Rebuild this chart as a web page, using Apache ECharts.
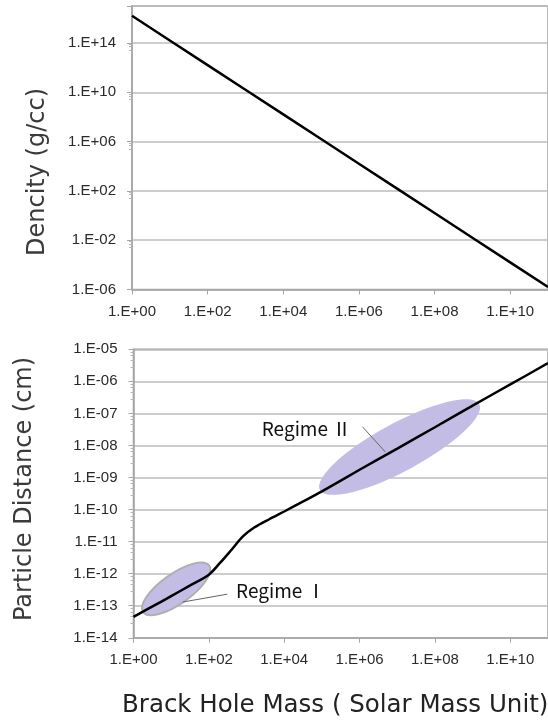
<!DOCTYPE html>
<html>
<head>
<meta charset="utf-8">
<script src="https://cdn.jsdelivr.net/npm/echarts@6/dist/echarts.min.js"></script>
<style>
  html, body { margin: 0; padding: 0; background: #fff; }
  #chart { width: 548px; height: 721px; }
</style>
</head>
<body>
<div id="chart"></div>
<script>
// top panel: density vs black hole mass
const massTop = [1, 1e1, 1e2, 1e3, 1e4, 1e5, 1e6, 1e7, 1e8, 1e9, 1e10, 1e11]
const densityTop = [1.6e16, 1.6e14, 1.6e12, 1.6e10, 1.6e8, 1.6e6, 1.6e4, 1.6e2, 1.6, 1.6e-2, 1.6e-4, 1.6e-6]

// bottom panel: particle distance vs black hole mass
const massBottom = [1, 3.2, 10, 32, 100, 200, 400, 800, 1600, 4000, 1e4, 3.2e4, 1e5, 1e6, 1e7, 1e8, 1e9, 1e10, 1e11]
const distanceBottom = [4.5e-14, 9.5e-14, 2.0e-13, 4.3e-13, 9.3e-13, 2.2e-12, 5.6e-12, 1.45e-11, 2.75e-11, 5.0e-11,
  8.7e-11, 1.8e-10, 3.7e-10, 1.75e-9, 8.0e-9, 3.7e-8, 1.75e-7, 8.0e-7, 3.7e-6]

// regime annotations (data units)
const regimeNames = ['Regime Ⅰ', 'Regime Ⅱ']
const regimeStart = [[1.8, 6.3e-14], [8.9e4, 4.1e-10]]
const regimeEnd = [[102, 1.8e-12], [1.5e9, 1.95e-7]]
const regimeLabelAt = [[8.1e3, 2.9e-13], [3.9e4, 3.2e-8]]
const leaderFrom = [[310, 2.3e-13], [1.2e6, 3.8e-8]]
const leaderTo = [[20, 1.3e-13], [4.8e6, 6.3e-9]]

const labelFont = 'Liberation Sans'
const titleFont = 'DejaVu Sans'

function sci(v) {
  const e = Math.round(Math.log10(v))
  return '1.E' + (e < 0 ? '-' : '+') + String(Math.abs(e)).padStart(2, '0')
}

function xAxisOf(gridIndex) {
  return {
    type: 'log',
    logBase: 10,
    gridIndex,
    min: 1,
    max: 1e11,
    interval: 2,
    axisLine: { lineStyle: { color: '#a6a6a6', width: 1.5 } },
    axisTick: { show: true, length: 5, lineStyle: { color: '#a6a6a6' } },
    axisLabel: {
      formatter: sci,
      color: '#2a2a2a',
      fontFamily: labelFont,
      fontSize: 15,
      margin: 15,
      showMaxLabel: false
    },
    splitLine: { show: false }
  }
}

const chart = echarts.init(document.getElementById('chart'))

const option = {
  animation: false,
  backgroundColor: '#fff',
  grid: [
    { left: 132, top: 6, width: 418, height: 283.5, show: true, borderColor: '#a0a0a0', borderWidth: 1.5 },
    { left: 133.5, top: 349.3, width: 418, height: 288.5, show: true, borderColor: '#a0a0a0', borderWidth: 1.5 }
  ],
  xAxis: [xAxisOf(0), xAxisOf(1)],
  yAxis: [
    {
      type: 'log',
      logBase: 10,
      gridIndex: 0,
      min: 1e-6,
      max: 1e17,
      interval: 4,
      axisLine: { show: true, lineStyle: { color: '#a6a6a6', width: 1.5 } },
      axisTick: { show: true, length: 5, lineStyle: { color: '#a6a6a6' } },
      minorTick: { show: true, splitNumber: 4, length: 3, lineStyle: { color: '#b8b8b8' } },
      axisLabel: {
        formatter: sci,
        color: '#2a2a2a',
        fontFamily: labelFont,
        fontSize: 15,
        margin: 16,
        showMaxLabel: false
      },
      splitLine: { show: true, lineStyle: { color: '#bdbdbd', width: 1.5 } }
    },
    {
      type: 'log',
      logBase: 10,
      gridIndex: 1,
      min: 1e-14,
      max: 1e-5,
      interval: 1,
      axisLine: { show: true, lineStyle: { color: '#a6a6a6', width: 1.5 } },
      axisTick: { show: true, length: 5, lineStyle: { color: '#a6a6a6' } },
      minorTick: { show: true, splitNumber: 5, length: 3, lineStyle: { color: '#b8b8b8' } },
      axisLabel: {
        formatter: sci,
        color: '#2a2a2a',
        fontFamily: labelFont,
        fontSize: 15,
        margin: 16
      },
      splitLine: { show: true, lineStyle: { color: '#bdbdbd', width: 1.5 } }
    }
  ],
  graphic: [
    {
      type: 'text',
      x: 38,
      y: 172,
      rotation: Math.PI / 2,
      style: { text: 'Dencity (g/cc)', font: '24px "' + titleFont + '"', fill: '#3a3a3a', align: 'center', verticalAlign: 'middle' }
    },
    {
      type: 'text',
      x: 25,
      y: 489,
      rotation: Math.PI / 2,
      style: { text: 'Particle Distance (cm)', font: '24px "' + titleFont + '"', fill: '#3a3a3a', align: 'center', verticalAlign: 'middle' }
    },
    {
      type: 'text',
      x: 122,
      y: 706,
      style: { text: 'Brack Hole Mass ( Solar Mass Unit)', font: '24.5px "' + titleFont + '"', fill: '#222', align: 'left', verticalAlign: 'middle' }
    }
  ],
  series: [
    {
      type: 'line',
      xAxisIndex: 0,
      yAxisIndex: 0,
      data: massTop.map((m, i) => [m, densityTop[i]]),
      showSymbol: false,
      lineStyle: { color: '#000', width: 2.5 },
      z: 5
    },
    {
      // regime ellipses
      type: 'custom',
      xAxisIndex: 1,
      yAxisIndex: 1,
      encode: { x: [0, 2], y: [1, 3] },
      data: regimeNames.map((n, i) => [regimeStart[i][0], regimeStart[i][1], regimeEnd[i][0], regimeEnd[i][1], i]),
      renderItem(params, api) {
        const p1 = api.coord([api.value(0), api.value(1)])
        const p2 = api.coord([api.value(2), api.value(3)])
        const dx = p2[0] - p1[0]
        const dy = p2[1] - p1[1]
        const rx = Math.sqrt(dx * dx + dy * dy) / 2
        const idx = api.value(4)
        const ry = idx === 0 ? 15 : 24
        return {
          type: 'ellipse',
          x: (p1[0] + p2[0]) / 2,
          y: (p1[1] + p2[1]) / 2,
          rotation: Math.atan2(-dy, dx),
          shape: { cx: 0, cy: 0, rx, ry },
          style: {
            fill: '#c3bde6',
            stroke: idx === 0 ? '#b0b0b0' : null,
            lineWidth: idx === 0 ? 2 : 0
          }
        }
      },
      z: 2
    },
    {
      type: 'line',
      xAxisIndex: 1,
      yAxisIndex: 1,
      data: massBottom.map((m, i) => [m, distanceBottom[i]]),
      showSymbol: false,
      smooth: 0.3,
      lineStyle: { color: '#000', width: 2.5 },
      z: 5
    },
    {
      // regime labels with leader lines
      type: 'custom',
      xAxisIndex: 1,
      yAxisIndex: 1,
      encode: { x: [0, 2, 4], y: [1, 3, 5] },
      data: regimeNames.map((n, i) => [
        regimeLabelAt[i][0], regimeLabelAt[i][1],
        leaderFrom[i][0], leaderFrom[i][1],
        leaderTo[i][0], leaderTo[i][1], i
      ]),
      renderItem(params, api) {
        const t = api.coord([api.value(0), api.value(1)])
        const a = api.coord([api.value(2), api.value(3)])
        const b = api.coord([api.value(4), api.value(5)])
        return {
          type: 'group',
          children: [
            {
              type: 'line',
              shape: { x1: a[0], y1: a[1], x2: b[0], y2: b[1] },
              style: { stroke: '#666', lineWidth: 1 }
            },
            {
              type: 'text',
              x: t[0],
              y: t[1],
              style: {
                text: regimeNames[api.value(6)],
                font: '19px "Noto Sans CJK JP"',
                fill: '#111',
                align: 'center',
                verticalAlign: 'middle'
              }
            }
          ]
        }
      },
      z: 6
    }
  ]
}

chart.setOption(option)
</script>
</body>
</html>
